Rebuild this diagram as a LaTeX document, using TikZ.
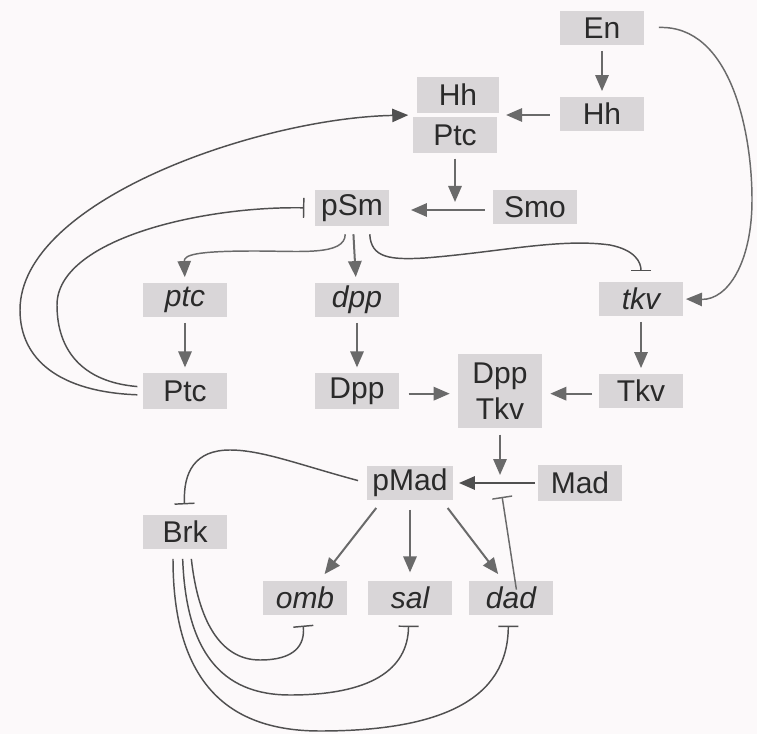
\documentclass[tikz,border=0pt]{standalone}
\usepackage{fontspec}
\setmainfont{Liberation Sans}
\usetikzlibrary{arrows.meta,calc}
\definecolor{bg}{HTML}{FCF9FA}
\definecolor{boxc}{HTML}{D9D6D8}
\definecolor{arrc}{HTML}{6A6A6A}
\definecolor{crvc}{HTML}{505050}
\definecolor{txtc}{HTML}{2A2A2A}
\tikzset{
  box/.style={fill=boxc, minimum width=63pt, minimum height=26pt, inner sep=0pt,
    text=txtc, font=\fontsize{22.5}{27}\selectfont},
  arr/.style={draw=arrc, line width=1.5pt, shorten <=4pt, shorten >=4pt,
    -{Triangle[length=12pt,width=10pt]}},
  crv/.style={draw=crvc, line width=1.1pt},
  crvarr/.style={crv, -{Triangle[length=12pt,width=10pt]}, fill=none},
  inh/.style={crv, -{Bar[width=15pt]}},
}
\begin{document}
\begin{tikzpicture}[x=0.75pt,y=-0.75pt]
\fill[bg] (0,0) rectangle (757,734);
\useasboundingbox (0,0) rectangle (757,734);

% nodes
\node[box] (En) at (602,28) {En};
\node[box] (HhR) at (602,114) {Hh};
\node[box, minimum width=61pt, minimum height=27pt] (HhA) at (458,95) {Hh};
\node[box, minimum height=27pt] (Ptc2) at (455,135) {Ptc};
\node[box] (Smo) at (535,207) {Smo};
\node[box, minimum width=56pt, minimum height=27pt] (pSm) at (352,208) {pSm};
\node[box] (ptc) at (185,300) {\itshape ptc};
\node[box] (dpp) at (357,300) {\itshape dpp};
\node[box] (tkv) at (641,299) {\itshape tkv};
\node[box, minimum height=27pt] (Ptc) at (185,391) {Ptc};
\node[box, minimum height=27pt] (Dpp) at (357,391) {Dpp};
\node[box, minimum height=55pt, align=center] (DppTkv) at (500,391) {Dpp\\Tkv};
\node[box] (Tkv) at (641,391) {Tkv};
\node[box, minimum width=64pt] (pMad) at (410,483) {pMad};
\node[box, minimum height=27pt] (Mad) at (580,483) {Mad};
\node[box] (Brk) at (185,532) {Brk};
\node[box] (omb) at (305,598) {\itshape omb};
\node[box] (sal) at (410,598) {\itshape sal};
\node[box] (dad) at (511,598) {\itshape dad};

% helper coordinates
\coordinate (hpW) at ($(HhA.south west)!0.5!(Ptc2.north west)$);
\coordinate (hpE) at ($(HhA.south east)!0.5!(Ptc2.north east)$);
\coordinate (j1) at (Ptc2.south |- 0,210);
\coordinate (j2) at (DppTkv.south |- pMad);

% straight arrows
\draw[arr] (En) -- (HhR);
\draw[arr, shorten <=7.5pt, shorten >=6pt] (HhR.west |- hpE) -- (hpE);
\draw[arr, shorten >=6pt] (Ptc2) -- (j1);
\draw[arr, shorten <=6pt, shorten >=16pt] (Smo.west |- j1) -- (pSm.east |- j1);
\draw[arr] (dpp) -- (Dpp);
\draw[arr] (ptc) -- (Ptc);
\draw[arr] (tkv) -- (Tkv);
\draw[arr, shorten <=7pt, shorten >=6pt] ([yshift=-2pt]Dpp.east) -- ([yshift=-2pt]DppTkv.west |- Dpp.east);
\draw[arr, shorten <=5pt, shorten >=6pt] ([yshift=-2pt]Tkv.west) -- ([yshift=-2pt]DppTkv.east |- Tkv.west);
\draw[arr, shorten <=5pt, shorten >=6pt] (DppTkv) -- (j2);
\draw[arr, draw=crvc, shorten <=2pt, shorten >=4.5pt] (Mad.west) -- (pMad.east);
\draw[arr, shorten <=7pt, shorten >=6pt] ([xshift=-21pt]pMad.south) -- ([xshift=11pt]omb.north);
\draw[arr, shorten <=7pt, shorten >=6pt] (pMad) -- (sal);
\draw[arr, shorten <=7pt, shorten >=6pt] ([xshift=24pt]pMad.south) -- ([xshift=-6pt]dad.north);

% curved connectors
\draw[crvarr, shorten <=4pt, shorten >=5pt] ([yshift=-3pt]Ptc.west)
  .. controls (60,392) and (20,360) .. (20,310)
  .. controls (20,200) and (260,118) .. (hpW);
\draw[inh, shorten <=4pt, shorten >=7.5pt] ([yshift=3pt]Ptc.west)
  .. controls (82,382) and (57,350) .. (57,305)
  .. controls (57,240) and (200,206) .. (pSm.west);
\draw[crvarr, draw=arrc, shorten <=6pt, shorten >=4pt] ([xshift=-5pt]pSm.south)
  .. controls (345,256) and (300,251) .. (255,251)
  .. controls (195,251) and (184,255) .. (ptc.north);
\draw[arr, shorten <=6pt, shorten >=4pt] (pSm) -- (dpp);
\draw[inh, shorten <=6pt, shorten >=7.5pt] ([xshift=13pt]pSm.south)
  .. controls (371,258) and (390,260) .. (425,258)
  .. controls (500,252) and (560,238) .. (610,245)
  .. controls (635,250) and (641,262) .. (tkv.north);
\draw[crvarr, draw=arrc, shorten <=11pt, shorten >=2pt] (En.east)
  .. controls (730,25) and (752,130) .. (752,200)
  .. controls (752,262) and (728,300) .. (tkv.east);
\draw[inh, shorten <=7pt, shorten >=7.5pt] (pMad.west)
  .. controls (300,465) and (262,450) .. (230,450)
  .. controls (195,450) and (183,472) .. (Brk.north);
\draw[inh, shorten <=7pt, shorten >=7.5pt] ([xshift=4pt]Brk.south)
  .. controls (198,620) and (220,660) .. (260,660)
  .. controls (295,660) and (305,645) .. ([xshift=-2pt]omb.south);
\draw[inh, shorten <=7pt, shorten >=7.5pt] ([xshift=-2pt]Brk.south)
  .. controls (186,650) and (220,695) .. (290,695)
  .. controls (370,695) and (408,670) .. ([xshift=-1pt]sal.south);
\draw[inh, shorten <=7pt, shorten >=7.5pt] ([xshift=-9pt]Brk.south)
  .. controls (173,685) and (230,731) .. (320,731)
  .. controls (440,731) and (508,700) .. ([xshift=-2pt]dad.south);
\draw[inh, draw=arrc, shorten <=-7pt, shorten >=10.5pt] ([xshift=3pt]dad.north) -- (j2);
\end{tikzpicture}
\end{document}
